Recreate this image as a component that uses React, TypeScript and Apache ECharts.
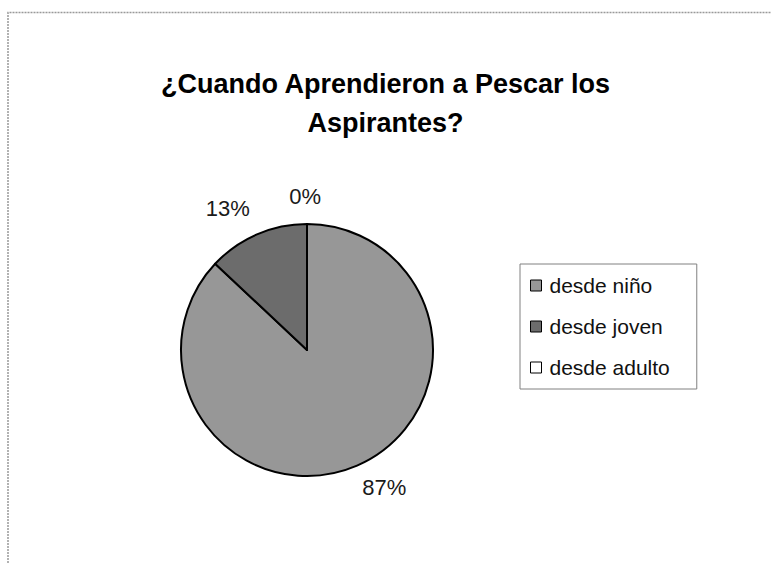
import React, { useEffect, useRef } from "react";
import * as echarts from "echarts";

const categories = ["desde niño", "desde joven", "desde adulto"];
const percentValues = [87, 13, 0];
const sliceColors = ["#979797", "#6c6c6c", "#ffffff"];
const titleText = "¿Cuando Aprendieron a Pescar los\nAspirantes?";
// small nudges of the outside labels, per slice
const labelNudges = [
  [-7, 5],
  [5, -9],
  [19, -10],
];

export default function App() {
  const ref = useRef<HTMLDivElement>(null);
  useEffect(() => {
    if (!ref.current) return;
    const chart = echarts.init(ref.current, null, { renderer: "svg" });
    const data = categories.map((name, i) => ({
      name,
      value: percentValues[i],
      itemStyle: { color: sliceColors[i] },
    }));
    chart.setOption({
      animation: false,
      backgroundColor: "#ffffff",
      title: {
        text: titleText,
        left: "center",
        top: 64,
        padding: [0, 0, 0, 17],
        textStyle: {
          fontFamily: "Arial, 'Liberation Sans', sans-serif",
          fontWeight: "bold",
          fontSize: 27,
          lineHeight: 39,
          color: "#000",
        },
      },
      legend: {
        orient: "vertical",
        left: 520,
        top: 264,
        padding: [11, 27, 11, 10],
        itemWidth: 11,
        itemHeight: 11,
        itemGap: 20,
        icon: "rect",
        borderColor: "#808080",
        borderWidth: 1,
        data: categories,
        itemStyle: { borderColor: "#000", borderWidth: 1 },
        textStyle: {
          fontFamily: "Arial, 'Liberation Sans', sans-serif",
          fontSize: 21,
          color: "#111",
          lineHeight: 20,
          padding: [0, 0, 0, 3],
        },
      },
      graphic: [
        {
          type: "polyline",
          shape: { points: [[8, 563], [8, 12.5], [771, 12.5]] },
          style: { stroke: "#999", lineWidth: 1.5, fill: "none", lineDash: [2, 1] },
          silent: true,
        },
      ],
      series: [
        {
          type: "pie",
          center: [307, 350],
          radius: 126,
          startAngle: 90,
          clockwise: true,
          avoidLabelOverlap: false,
          itemStyle: { borderColor: "#000", borderWidth: 2 },
          label: {
            show: true,
            position: "outside",
            formatter: "{c}%",
            fontFamily: "Arial, 'Liberation Sans', sans-serif",
            fontSize: 22,
            color: "#1a1a1a",
          },
          labelLine: { show: false, length: 18, length2: 0 },
          labelLayout: (params: any) => {
            const n = labelNudges[params.dataIndex] || [0, 0];
            return { dx: n[0], dy: n[1] };
          },
          emphasis: { disabled: true },
          data,
        },
      ],
    });
    return () => chart.dispose();
  }, []);
  return (
    <div
      ref={ref}
      style={{ position: "absolute", left: 0, top: 0, width: 771, height: 563 }}
    />
  );
}
